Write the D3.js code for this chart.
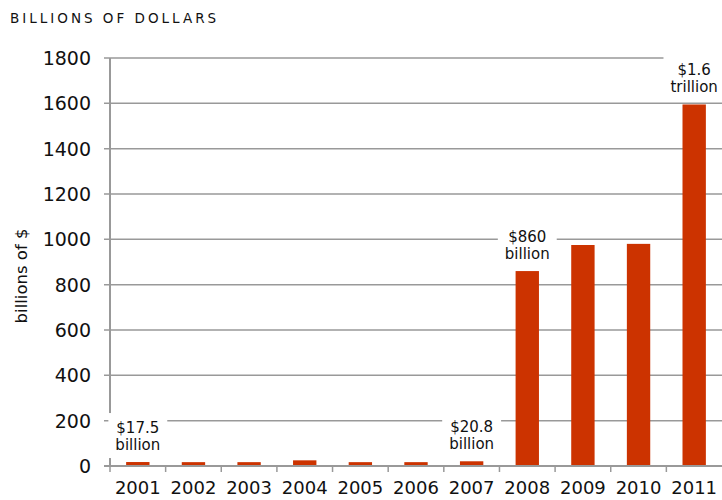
<!DOCTYPE html>
<html><head><meta charset="utf-8">
<script src="https://cdn.jsdelivr.net/npm/d3@7"></script>
<style>body{margin:0;background:#fff}svg{display:block}text{font-family:"DejaVu Sans",sans-serif}</style>
</head><body><svg id="c" width="722" height="500"></svg>
<script>
const years = ["2001","2002","2003","2004","2005","2006","2007","2008","2009","2010","2011"];
const values = [17.5,17,17,25,17,17,20.8,860,975,980,1595];
const yTicks = [0,200,400,600,800,1000,1200,1400,1600,1800];
const labelYears = ["2001","2007","2008","2011"];
const labelLines = [["$17.5","billion"],["$20.8","billion"],["$860","billion"],["$1.6","trillion"]];

const svg = d3.select("#c");
const x = d3.scaleBand().domain(years).range([110,722]).paddingInner(0.58).paddingOuter(0.29);
const xt = d3.scaleBand().domain(years).range([110,722]);
const y = d3.scaleLinear().domain([0,1800]).range([466,58]);

svg.append("text").attr("x",10).attr("y",23).attr("font-size",13.5).attr("letter-spacing","3px").attr("fill","#111").text("BILLIONS OF DOLLARS");

// gridlines
svg.append("g").selectAll("line").data(yTicks.filter(d=>d>0)).join("line")
  .attr("x1",104).attr("x2",722).attr("y1",d=>y(d)).attr("y2",d=>y(d))
  .attr("stroke","#999").attr("stroke-width",1.5);
// y axis line
svg.append("line").attr("x1",110).attr("x2",110).attr("y1",y(1800)).attr("y2",466).attr("stroke","#999").attr("stroke-width",2);
// y tick labels
svg.append("g").selectAll("text").data(yTicks).join("text")
  .attr("x",91).attr("y",d=>y(d)+7).attr("text-anchor","end").attr("font-size",19).attr("fill","#111").text(d=>d);

// bars
svg.append("g").selectAll("rect").data(years).join("rect")
  .attr("x",d=>x(d)).attr("width",x.bandwidth())
  .attr("y",(d,i)=>y(values[i])).attr("height",(d,i)=>466-y(values[i]))
  .attr("fill","#cc3300");

// x axis
svg.append("line").attr("x1",104).attr("x2",722).attr("y1",466).attr("y2",466).attr("stroke","#999").attr("stroke-width",2);
svg.append("g").selectAll("line").data(years).join("line")
  .attr("x1",d=>xt(d)).attr("x2",d=>xt(d)).attr("y1",466).attr("y2",472).attr("stroke","#999").attr("stroke-width",1.5);
svg.append("g").selectAll("text").data(years).join("text")
  .attr("x",d=>x(d)+x.bandwidth()/2).attr("y",494).attr("text-anchor","middle").attr("font-size",18).attr("fill","#111").text(d=>d);

// y axis title
svg.append("text").attr("transform","translate(27,276) rotate(-90)").attr("text-anchor","middle").attr("font-size",16.5).attr("fill","#111").text("billions of $");

// annotations
labelYears.forEach((yr,k)=>{
  const i = years.indexOf(yr);
  const cx = x(yr)+x.bandwidth()/2;
  const base = y(values[i]) - 12;
  const g = svg.append("g");
  const bg = g.append("rect").attr("fill","#fff");
  const t = g.append("text").attr("text-anchor","middle").attr("font-size",15).attr("fill","#111");
  t.append("tspan").attr("x",cx).attr("y",base-17).text(labelLines[k][0]);
  t.append("tspan").attr("x",cx).attr("y",base).text(labelLines[k][1]);
  const bb = t.node().getBBox();
  bg.attr("x",bb.x-7).attr("y",bb.y-6).attr("width",bb.width+14).attr("height",bb.height+10);
});
</script></body></html>
